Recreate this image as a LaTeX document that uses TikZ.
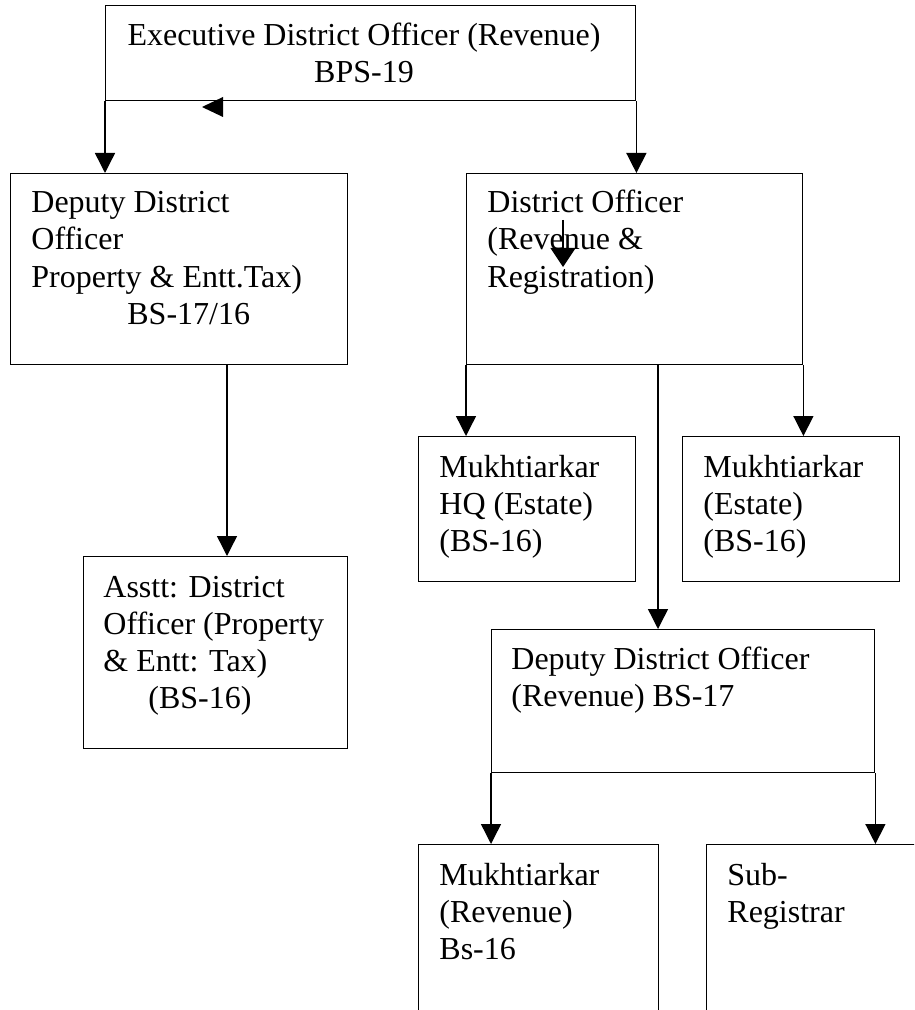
\documentclass[tikz,border=0pt]{standalone}
\usepackage{fontspec}
\setmainfont{Liberation Serif}
\usepackage{tikz}
\usetikzlibrary{arrows.meta}

\begin{document}
\begin{tikzpicture}[x=0.5pt,y=-0.5pt,
    orgbox/.style={draw,line width=0.7pt,inner sep=0pt,anchor=north west},
    orgtext/.style={font=\fontsize{16}{18.5}\selectfont,align=left,
                    anchor=base west,inner sep=0pt},
    link/.style={line width=0.7pt,-{Triangle[length=10pt,width=10pt]}}
]
    \clip (0,0) rectangle (914,1010);
    \fill[white] (0,0) rectangle (914,1010);

    % boxes
    \node[orgbox,minimum width=265pt,minimum height=47.5pt] (edo) at (105,5) {};
    \node[orgbox,minimum width=168.5pt,minimum height=95.5pt] (ddopt) at (10,173) {};
    \node[orgbox,minimum width=132pt,minimum height=96pt] (adopt) at (83,556) {};
    \node[orgbox,minimum width=168pt,minimum height=95.5pt] (dorr) at (466,173) {};
    \node[orgbox,minimum width=108.5pt,minimum height=72.5pt] (mhq) at (418,436) {};
    \node[orgbox,minimum width=108.5pt,minimum height=72.5pt] (mest) at (682,436) {};
    \node[orgbox,minimum width=191.5pt,minimum height=71.5pt] (ddorev) at (491,629) {};
    \node[orgbox,minimum width=120pt,minimum height=125pt] (mrev) at (418,844) {};
    \node[orgbox,minimum width=130pt,minimum height=125pt] (subreg) at (706,844) {};

    % texts (placed at the baseline of the last line)
    \node[orgtext,anchor=base,align=center] (edotxt) at (364,83)
        {Executive District Officer (Revenue)\\BPS-19};
    \node[orgtext] (ddopttxt) at (31,324)
        {Deputy District\\Officer\\Property \& Entt.Tax)\\\hspace*{48pt}BS-17/16};
    \node[orgtext] (adopttxt) at (103,708)
        {Asstt: District\\Officer (Property\\\& Entt: Tax)\\\hspace*{22.5pt}(BS-16)};
    \node[orgtext] (dorrtxt) at (487,287)
        {District Officer\\(Revenue \&\\Registration)};
    \node[orgtext] (mhqtxt) at (439,551) {Mukhtiarkar\\HQ (Estate)\\(BS-16)};
    \node[orgtext] (mesttxt) at (703,551) {Mukhtiarkar\\(Estate)\\(BS-16)};
    \node[orgtext] (ddorevtxt) at (511,706) {Deputy District Officer\\(Revenue) BS-17};
    \node[orgtext] (mrevtxt) at (439,959) {Mukhtiarkar\\(Revenue)\\Bs-16};
    \node[orgtext] (subregtxt) at (727,922) {Sub-\\Registrar};

    % connectors
    \coordinate (ptline) at (227,0);
    \coordinate (revline) at (658,0);
    \draw[link] (edo.south west) -- (edo.south west |- ddopt.north);
    \draw[link] (edo.south east) -- (edo.south east |- dorr.north);
    \draw[link] (ptline |- ddopt.south) -- (ptline |- adopt.north);
    \draw[link] (dorr.south west) -- (dorr.south west |- mhq.north);
    \draw[link] (dorr.south east) -- (dorr.south east |- mest.north);
    \draw[link] (revline |- dorr.south) -- (revline |- ddorev.north);
    \draw[link] (ddorev.south west) -- (ddorev.south west |- mrev.north);
    \draw[link] (ddorev.south east) -- (ddorev.south east |- subreg.north);

    % stray tips
    \fill (202,107) -- (223,97) -- (223,117) -- cycle;
    \coordinate (straytop) at (563,220);
    \coordinate (straytip) at (563,267);
    \draw[line width=0.7pt,-{Triangle[length=9.5pt,width=12.5pt]}] (straytop) -- (straytip);
\end{tikzpicture}
\end{document}
